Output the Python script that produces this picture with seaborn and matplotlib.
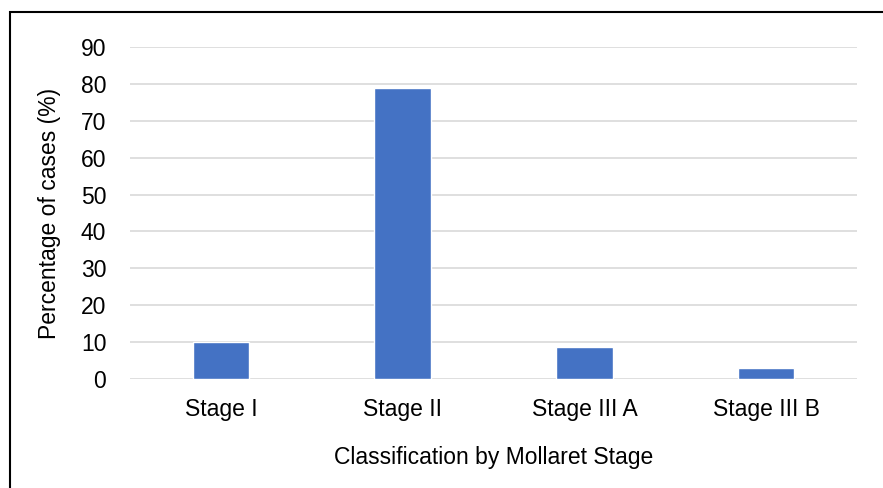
import matplotlib
matplotlib.use('Agg')
import matplotlib.pyplot as plt
import seaborn as sns
import pandas as pd
from matplotlib.patches import Rectangle

stages = ['Stage I', 'Stage II', 'Stage III A', 'Stage III B']
percent = [9.9, 78.8, 8.6, 2.9]
yticks = [0, 10, 20, 30, 40, 50, 60, 70, 80, 90]

df = pd.DataFrame({'stage': stages, 'percent': percent})

sns.set_style('white')
plt.rcParams['font.family'] = ['Liberation Sans', 'DejaVu Sans']
plt.rcParams['text.color'] = 'black'
plt.rcParams['axes.labelcolor'] = 'black'
plt.rcParams['xtick.color'] = 'black'
plt.rcParams['ytick.color'] = 'black'

fig = plt.figure(figsize=(8.83, 4.88), dpi=100)
ax = fig.add_axes([0.1472, 0.2234, 0.8234, 0.6803])

sns.barplot(data=df, x='stage', y='percent', color='#4472C4', width=0.31,
            saturation=1, ax=ax, zorder=3)

ax.set_ylim(0, 90)
ax.set_xlim(-0.5, 3.5)
ax.set_yticks(yticks)
ax.yaxis.grid(True, color='#d9d9d9', linewidth=1.2, zorder=0)
ax.set_axisbelow(True)
for s in ax.spines.values():
    s.set_visible(False)
ax.tick_params(axis='y', length=0, pad=17, labelsize=16.5)
ax.tick_params(axis='x', length=0, pad=14, labelsize=16.5)
ax.set_xlabel('Classification by Mollaret Stage', fontsize=16.5, labelpad=18)
ax.set_ylabel('Percentage of cases (%)', fontsize=16.5, labelpad=14)

# outer frame, only left and top show
fig.patches.append(Rectangle((10 / 883, -0.1), 1.2, 1 - 12 / 488 + 0.1,
                             transform=fig.transFigure, fill=False,
                             edgecolor='black', linewidth=1.5))

fig.savefig('out.png', dpi=100)
